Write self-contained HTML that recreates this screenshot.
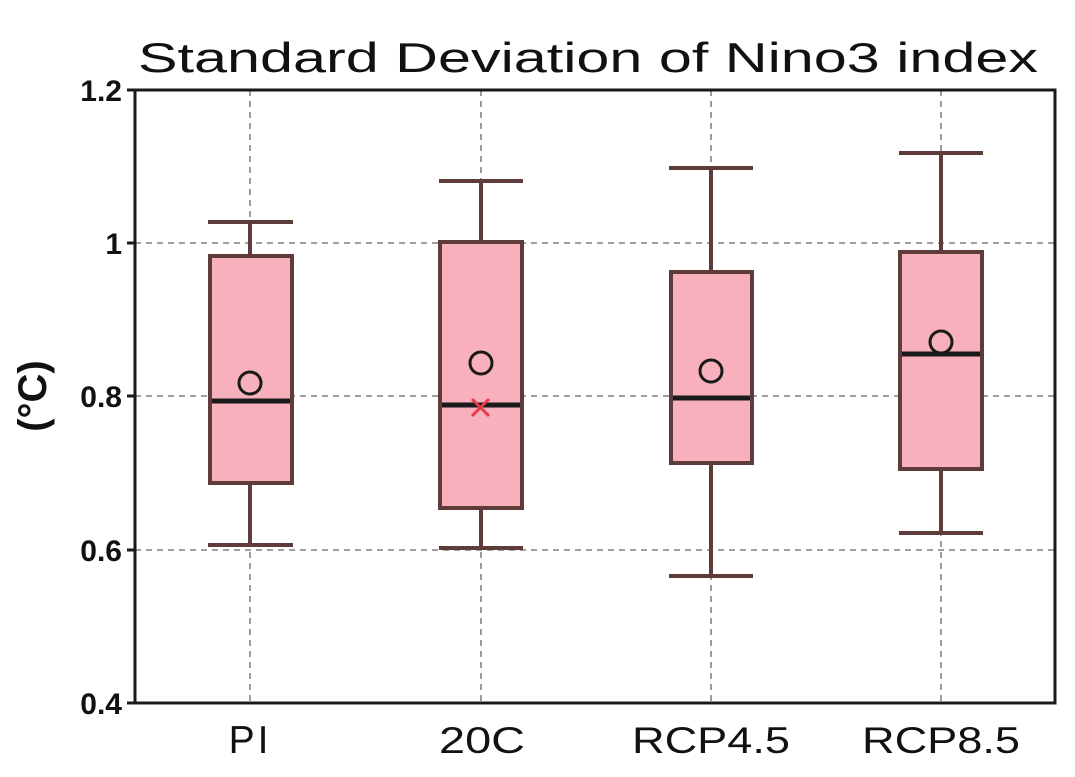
<!DOCTYPE html>
<html><head><style>body{margin:0;background:#fff}svg{display:block}</style></head><body>
<svg width="1075" height="777" xmlns="http://www.w3.org/2000/svg" font-family="Liberation Sans, sans-serif">
<rect width="1075" height="777" fill="#fff"/>
<text x="138" y="72" font-size="42" textLength="900" lengthAdjust="spacingAndGlyphs" fill="#111">Standard Deviation of Nino3 index</text>
<g stroke="#666" stroke-width="1.3" stroke-dasharray="6,5">
<line x1="135" y1="243" x2="1055" y2="243"/><line x1="135" y1="396" x2="1055" y2="396"/><line x1="135" y1="550" x2="1055" y2="550"/>
<line x1="250" y1="90" x2="250" y2="703"/><line x1="481" y1="90" x2="481" y2="703"/><line x1="711" y1="90" x2="711" y2="703"/><line x1="941" y1="90" x2="941" y2="703"/>
</g>
<g stroke="#5e3c3a" stroke-width="4" fill="#f8b0bc">
<line x1="250" y1="222" x2="250" y2="545"/><line x1="208" y1="222" x2="293" y2="222"/><line x1="208" y1="545" x2="293" y2="545"/>
<rect x="210" y="256" width="82" height="227"/>
<line x1="481" y1="181" x2="481" y2="548"/><line x1="439" y1="181" x2="523" y2="181"/><line x1="439" y1="548" x2="523" y2="548"/>
<rect x="440" y="242" width="82" height="266"/>
<line x1="711" y1="168" x2="711" y2="576"/><line x1="669" y1="168" x2="753" y2="168"/><line x1="669" y1="576" x2="753" y2="576"/>
<rect x="671" y="272" width="81" height="191"/>
<line x1="941" y1="153" x2="941" y2="533"/><line x1="899" y1="153" x2="983" y2="153"/><line x1="899" y1="533" x2="983" y2="533"/>
<rect x="900" y="252" width="82" height="217"/>
</g>
<g stroke="#1a1a1a" stroke-width="5">
<line x1="212" y1="401" x2="290" y2="401"/><line x1="442" y1="405" x2="520" y2="405"/><line x1="673" y1="398" x2="750" y2="398"/><line x1="902" y1="354" x2="980" y2="354"/>
</g>
<g stroke="#1a1a1a" stroke-width="3" fill="none">
<circle cx="250" cy="383" r="11"/><circle cx="481" cy="363" r="11"/><circle cx="711" cy="371" r="11"/><circle cx="941" cy="342" r="11"/>
</g>
<g stroke="#e8394a" stroke-width="3"><line x1="472" y1="399" x2="489" y2="416"/><line x1="489" y1="399" x2="472" y2="416"/></g>
<rect x="135" y="90" width="920" height="613" fill="none" stroke="#1a1a1a" stroke-width="3"/>
<g stroke="#1a1a1a" stroke-width="3">
<line x1="127" y1="90" x2="135" y2="90"/><line x1="127" y1="243" x2="135" y2="243"/><line x1="127" y1="396" x2="135" y2="396"/><line x1="127" y1="550" x2="135" y2="550"/><line x1="127" y1="703" x2="135" y2="703"/>
</g>
<g font-size="30" text-anchor="end" fill="#111" font-weight="bold">
<text x="122" y="101">1.2</text><text x="122" y="254">1</text><text x="122" y="407">0.8</text><text x="122" y="561">0.6</text><text x="122" y="714">0.4</text>
</g>
<g font-size="37" fill="#111">
<text x="250" y="753" text-anchor="middle" font-size="39" letter-spacing="3">PI</text>
<text x="439" y="753" textLength="86" lengthAdjust="spacingAndGlyphs">20C</text>
<text x="632" y="753" textLength="158" lengthAdjust="spacingAndGlyphs">RCP4.5</text>
<text x="862" y="753" textLength="158" lengthAdjust="spacingAndGlyphs">RCP8.5</text>
</g>
<text transform="translate(46,396) rotate(-90)" font-size="40" font-weight="bold" text-anchor="middle" fill="#111">(°C)</text>
</svg>
</body></html>
